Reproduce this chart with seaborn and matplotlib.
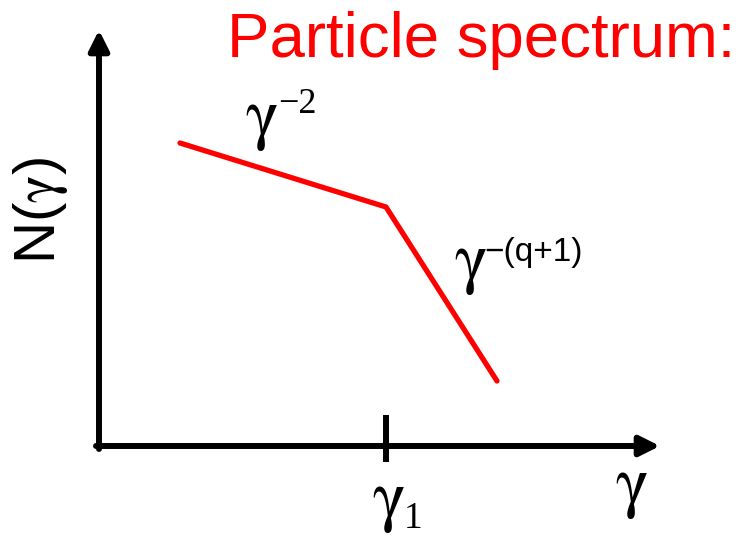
import matplotlib
matplotlib.use("Agg")
import matplotlib.pyplot as plt
import seaborn as sns
import pandas as pd

sns.set_theme(style="white")
plt.rcParams["font.family"] = ["Liberation Sans", "DejaVu Sans"]
plt.rcParams["mathtext.fontset"] = "stix"
plt.rcParams["text.color"] = "black"

# Schematic broken power-law spectrum (arbitrary units, origin at the axes corner)
gamma_pts = [81, 287, 398]
n_pts = [303, 239, 65]
gamma_break = 287

SANS = ["Liberation Sans", "DejaVu Sans"]
SERIF = ["Liberation Serif", "DejaVu Serif"]
G = r"$\mathrm{\gamma}$"

fig = plt.figure(figsize=(7.39, 5.36), dpi=100)
ax = fig.add_axes([0, 0, 1, 1])
ax.set_xlim(-99, 640)
ax.set_ylim(-90, 446)
ax.axis("off")

df = pd.DataFrame({"gamma": gamma_pts, "N": n_pts})
sns.lineplot(data=df, x="gamma", y="N", ax=ax, color="#ff0000", lw=3.8,
             sort=False, estimator=None)

# Axes with arrowheads
arrow = dict(arrowstyle="-|>,head_length=0.8,head_width=0.4", color="black",
             lw=4.3, mutation_scale=15, shrinkA=0, shrinkB=0)
ax.annotate("", xy=(0, 416), xytext=(0, -3), arrowprops=arrow)
ax.annotate("", xy=(561, 0), xytext=(-3, 0), arrowprops=arrow)

# Break tick
ax.plot([gamma_break, gamma_break], [-16, 31], color="black", lw=4.3,
        solid_capstyle="butt")

# Labels
ax.text(128, 389, "Particle spectrum:", color="#ff0000", fontsize=45.7,
        family=SANS, ha="left", va="baseline")
ax.text(-29, 236, "N(" + G + ")", rotation=90, fontsize=42, family=SANS,
        ha="right", va="center", color="black")
ax.text(146, 310, G, fontsize=50, ha="left", va="baseline", color="black")
ax.text(179, 333, "\u22122", fontsize=26, family=SERIF, ha="left", va="baseline",
        color="black")
ax.text(355, 166, G, fontsize=50, ha="left", va="baseline", color="black")
ax.text(385, 185, "\u2212(q+1)", fontsize=24, family=SANS, ha="left",
        va="baseline", color="black")
ax.text(273, -72, G, fontsize=50, ha="left", va="baseline", color="black")
ax.text(305, -82, "1", fontsize=27, family=SERIF, ha="left", va="baseline",
        color="black")
ax.text(516, -58, G, fontsize=50, ha="left", va="baseline", color="black")

fig.savefig("out.png", dpi=100)
